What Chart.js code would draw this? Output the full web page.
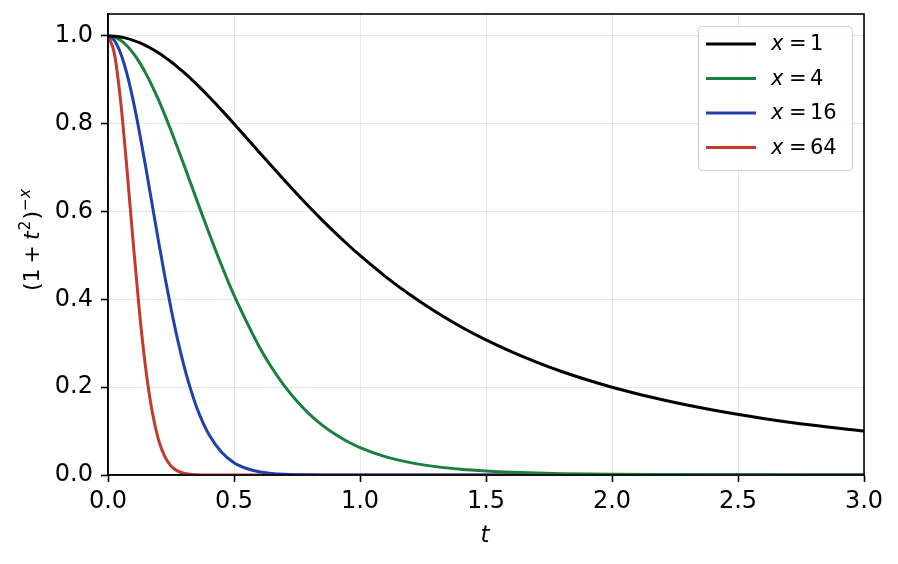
<!DOCTYPE html>
<html><head><meta charset="utf-8">
<script src="https://cdn.jsdelivr.net/npm/chart.js@4.4.1/dist/chart.umd.min.js"></script>
<style>html,body{margin:0;padding:0;background:#fff;} #wrap{width:898px;height:564px;position:relative;}</style>
</head><body><div id="wrap"><canvas id="c"></canvas></div>
<script>
// t sample positions
const tValues = [0,0.025,0.05,0.075,0.1,0.125,0.15,0.175,0.2,0.225,0.25,0.275,0.3,0.325,0.35,0.375,0.4,
  0.45,0.5,0.55,0.6,0.65,0.7,0.75,0.8,0.85,0.9,0.95,
  1.0,1.1,1.2,1.3,1.4,1.5,1.6,1.7,1.8,1.9,2.0,
  2.2,2.4,2.6,2.8,3.0];
const exponents = [1, 4, 16, 64];
const seriesX1 = [1,0.9994,0.9975,0.9944,0.9901,0.9846,0.978,0.9703,0.9615,0.9518,0.9412,0.9297,0.9174,0.9045,0.8909,0.8767,0.8621,
  0.8316,0.8,0.7678,0.7353,0.703,0.6711,0.64,0.6098,0.5806,0.5525,0.5256,
  0.5,0.4525,0.4098,0.3718,0.3378,0.3077,0.2809,0.2571,0.2358,0.2169,0.2,
  0.1712,0.1479,0.1289,0.1131,0.1];
const seriesX4 = [1,0.9975,0.9901,0.9778,0.961,0.9399,0.9148,0.8863,0.8548,0.8208,0.7847,0.747,0.7084,0.6692,0.6299,0.5908,0.5523,
  0.4783,0.4096,0.3489,0.2923,0.2442,0.2029,0.1678,0.1382,0.1136,0.0932,0.0763,
  0.0625,0.0419,0.0282,0.0191,0.013,0.009,0.0062,0.0044,0.0031,0.0022,0.0016,
  0.0009,0.0005,0.0003,0.0002,0.0001];
const seriesX16 = [1,0.99,0.9608,0.9142,0.8528,0.7803,0.7005,0.6171,0.5339,0.4538,0.3791,0.3114,0.2519,0.2006,0.1574,0.1218,0.093,
  0.0523,0.0281,0.0148,0.0073,0.0036,0.0017,0.0008,0.0004,0.0002,0.0001,0,
  0,0,0,0,0,0,0,0,0,0,0,
  0,0,0,0,0];
const seriesX64 = [1,0.9608,0.8523,0.6984,0.529,0.3707,0.2408,0.1451,0.0813,0.0424,0.0207,0.0094,0.004,0.0016,0.0006,0.0002,0.0001,
  0,0,0,0,0,0,0,0,0,0,0,
  0,0,0,0,0,0,0,0,0,0,0,
  0,0,0,0,0];
const xTicks = [0, 0.5, 1.0, 1.5, 2.0, 2.5, 3.0];
const yTicks = [0, 0.2, 0.4, 0.6, 0.8, 1.0];
const colors = ['#000000', '#1b7f3e', '#2140b0', '#c33a2c'];

const FONT = '"DejaVu Sans", "Liberation Sans", sans-serif';
const allSeries = [seriesX1, seriesX4, seriesX16, seriesX64];

const datasets = allSeries.map((s, i) => ({
  label: 'x = ' + exponents[i],
  data: tValues.map((t, j) => ({x: t, y: s[j]})),
  borderColor: colors[i],
  backgroundColor: colors[i],
  borderWidth: 3,
  pointRadius: 0,
  fill: false,
  cubicInterpolationMode: 'monotone'
}));

function drawPieces(ctx, pieces, x0, y0, size, supSize, supRaise) {
  let x = x0;
  for (const p of pieces) {
    const fs = p.sup ? supSize : size;
    ctx.font = (p.it ? 'italic ' : '') + fs + 'px ' + FONT;
    ctx.fillText(p.t, x, y0 - (p.sup ? supRaise : 0));
    x += ctx.measureText(p.t).width + (p.gap || 0);
  }
}
function measurePieces(ctx, pieces, size, supSize) {
  let w = 0;
  for (const p of pieces) {
    const fs = p.sup ? supSize : size;
    ctx.font = (p.it ? 'italic ' : '') + fs + 'px ' + FONT;
    w += ctx.measureText(p.t).width + (p.gap || 0);
  }
  return w;
}

const decorPlugin = {
  id: 'decor',
  afterDatasetsDraw(chart) {
    const ctx = chart.ctx, a = chart.chartArea;
    ctx.save();
    ctx.strokeStyle = '#000';
    ctx.lineWidth = 1.6;
    ctx.strokeRect(a.left, a.top, a.right - a.left, a.bottom - a.top);
    ctx.restore();
  },
  afterDraw(chart) {
    const ctx = chart.ctx;
    ctx.save();
    ctx.fillStyle = '#000';
    ctx.textBaseline = 'alphabetic';
    ctx.textAlign = 'left';
    // x axis title
    const xp = [{t: 't', it: true}];
    const xw = measurePieces(ctx, xp, 23, 16);
    drawPieces(ctx, xp, 485 - xw / 2, 542, 23, 16, 9);
    // y axis title (rotated)
    const yp = [{t: '(1', gap: 5}, {t: '+', gap: 5}, {t: 't', it: true, gap: 1}, {t: '2', sup: true, gap: 1}, {t: ')'}, {t: '−', sup: true}, {t: 'x', it: true, sup: true}];
    ctx.translate(39, 240);
    ctx.rotate(-Math.PI / 2);
    const yw = measurePieces(ctx, yp, 22, 15.5);
    drawPieces(ctx, yp, -yw / 2, 0, 22, 15.5, 9);
    ctx.restore();

    // legend
    ctx.save();
    const bx = 698.5, by = 26.5, bw = 154, bh = 144, r = 4;
    ctx.beginPath();
    ctx.moveTo(bx + r, by);
    ctx.arcTo(bx + bw, by, bx + bw, by + bh, r);
    ctx.arcTo(bx + bw, by + bh, bx, by + bh, r);
    ctx.arcTo(bx, by + bh, bx, by, r);
    ctx.arcTo(bx, by, bx + bw, by, r);
    ctx.closePath();
    ctx.fillStyle = 'rgba(255,255,255,0.85)';
    ctx.fill();
    ctx.strokeStyle = '#d0d0d0';
    ctx.lineWidth = 1.2;
    ctx.stroke();
    const rowY = [44, 78.5, 113, 147.5];
    chart.data.datasets.forEach((ds, i) => {
      const y = rowY[i];
      ctx.strokeStyle = ds.borderColor;
      ctx.lineWidth = 3;
      ctx.beginPath();
      ctx.moveTo(706, y);
      ctx.lineTo(756, y);
      ctx.stroke();
      ctx.fillStyle = '#000';
      ctx.textBaseline = 'middle';
      ctx.font = 'italic 21px ' + FONT;
      ctx.fillText('x', 771, y + 1);
      ctx.font = '21px ' + FONT;
      ctx.fillText('=', 789, y + 1);
      ctx.fillText(String(exponents[i]), 810, y + 1);
    });
    ctx.restore();
  }
};

new Chart(document.getElementById('c'), {
  type: 'line',
  data: { datasets },
  options: {
    responsive: true,
    maintainAspectRatio: false,
    animation: false,
    layout: { padding: { left: 0, top: 14, right: 34, bottom: 0 } },
    plugins: { legend: { display: false }, tooltip: { enabled: false } },
    scales: {
      x: {
        type: 'linear',
        min: 0, max: 3,
        afterFit(s) { s.height = 89; s.paddingLeft = 0; s.paddingRight = 0; },
        afterBuildTicks(s) { s.ticks = xTicks.map(v => ({value: v})); },
        grid: { color: '#e6e6e6', lineWidth: 1, tickColor: '#000', tickLength: 7, tickWidth: 1.6 },
        border: { display: true, color: '#000', width: 1.6 },
        ticks: { color: '#000', font: { family: FONT, size: 24 }, padding: 5, maxRotation: 0,
          callback: v => Number(v).toFixed(1) }
      },
      y: {
        type: 'linear',
        min: 0, max: 1.05,
        afterFit(s) { s.width = 108; s.paddingTop = 0; s.paddingBottom = 0; },
        afterBuildTicks(s) { s.ticks = yTicks.map(v => ({value: v})); },
        grid: { color: '#e6e6e6', lineWidth: 1, tickColor: '#000', tickLength: 7, tickWidth: 1.6 },
        border: { display: true, color: '#000', width: 1.6 },
        ticks: { color: '#000', font: { family: FONT, size: 24 }, padding: 8,
          callback: v => Number(v).toFixed(1) }
      }
    }
  },
  plugins: [decorPlugin]
});
</script>
</body></html>
